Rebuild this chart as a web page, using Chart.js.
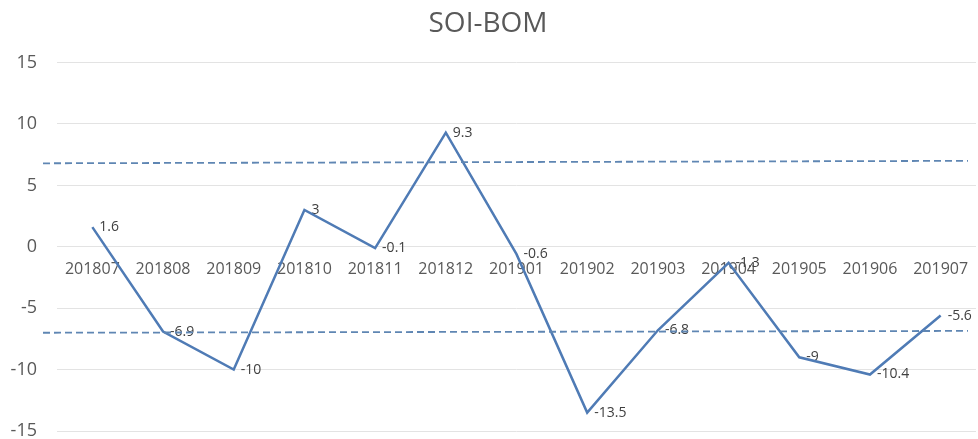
<!DOCTYPE html>
<html>
<head>
<meta charset="utf-8">
<script src="https://cdn.jsdelivr.net/npm/chart.js@4/dist/chart.umd.min.js"></script>
<style>
  html, body { margin: 0; padding: 0; background: #fff; }
  #wrap { width: 978px; height: 439px; }
</style>
</head>
<body>
<div id="wrap"><canvas id="soiChart"></canvas></div>
<script>
var meses = ['201807','201808','201809','201810','201811','201812','201901','201902','201903','201904','201905','201906','201907']
var soi = [1.6, -6.9, -10, 3, -0.1, 9.3, -0.6, -13.5, -6.8, -1.3, -9, -10.4, -5.6]
var umbralAlto = [6.8, 7.0]   // linea punteada superior (extremo izq, extremo der)
var umbralBajo = [-7.0, -6.85] // linea punteada inferior
var yTicks = [-15, -10, -5, 0, 5, 10, 15]

// lineas punteadas de umbral
var umbrales = {
  id: 'umbrales',
  afterDatasetsDraw: function (chart) {
    var ctx = chart.ctx
    var y = chart.scales.y
    var area = chart.chartArea
    var x0 = area.left - 14
    var x1 = area.right - 8
    ctx.save()
    ctx.strokeStyle = '#5f86b3'
    ctx.lineWidth = 1.8
    ctx.setLineDash([7, 4])
    ;[umbralAlto, umbralBajo].forEach(function (u) {
      ctx.beginPath()
      ctx.moveTo(x0, y.getPixelForValue(u[0]))
      ctx.lineTo(x1, y.getPixelForValue(u[1]))
      ctx.stroke()
    })
    ctx.restore()
  }
}

// etiquetas de categoria sobre la linea del cero + etiquetas de valores
var etiquetas = {
  id: 'etiquetas',
  beforeDatasetsDraw: function (chart) {
    var ctx = chart.ctx
    var xs = chart.scales.x
    var y0 = chart.scales.y.getPixelForValue(0)
    var meta = chart.getDatasetMeta(0)
    ctx.save()
    ctx.font = '16px "Open Sans", sans-serif'
    ctx.fillStyle = '#595959'
    ctx.textAlign = 'center'
    ctx.textBaseline = 'top'
    meses.forEach(function (m, i) {
      ctx.fillText(m, xs.getPixelForValue(i), y0 + 15)
    })
    ctx.font = '14px "Open Sans", sans-serif'
    ctx.fillStyle = '#404040'
    ctx.textAlign = 'left'
    ctx.textBaseline = 'middle'
    meta.data.forEach(function (p, i) {
      ctx.fillText(String(soi[i]), p.x + 7, p.y)
    })
    ctx.restore()
  }
}

var ctx = document.getElementById('soiChart').getContext('2d')
new Chart(ctx, {
  type: 'line',
  data: {
    labels: meses,
    datasets: [{
      label: 'SOI',
      data: soi,
      borderColor: '#4f7bb5',
      borderWidth: 2.5,
      pointRadius: 0,
      tension: 0,
      fill: false
    }]
  },
  options: {
    responsive: true,
    maintainAspectRatio: false,
    animation: false,
    layout: { padding: { left: 0, right: 2, top: 0, bottom: 8 } },
    plugins: {
      legend: { display: false },
      tooltip: { enabled: false },
      title: {
        display: true,
        text: 'SOI-BOM',
        color: '#595959',
        font: { family: '"Open Sans", sans-serif', size: 28, weight: 'normal' },
        padding: { top: 7, bottom: 22 }
      }
    },
    scales: {
      x: {
        display: false,
        offset: true
      },
      y: {
        min: -15,
        max: 15,
        afterFit: function (scale) {
          scale.width = 57
          scale.paddingTop = 0
          scale.paddingBottom = 0
        },
        afterBuildTicks: function (scale) {
          scale.ticks = yTicks.map(function (v) { return { value: v } })
        },
        grid: { color: '#e3e3e3', lineWidth: 1, drawTicks: false },
        border: { display: false },
        ticks: {
          color: '#595959',
          font: { family: '"Open Sans", sans-serif', size: 18 },
          padding: 20
        }
      }
    }
  },
  plugins: [umbrales, etiquetas]
})
</script>
</body>
</html>
